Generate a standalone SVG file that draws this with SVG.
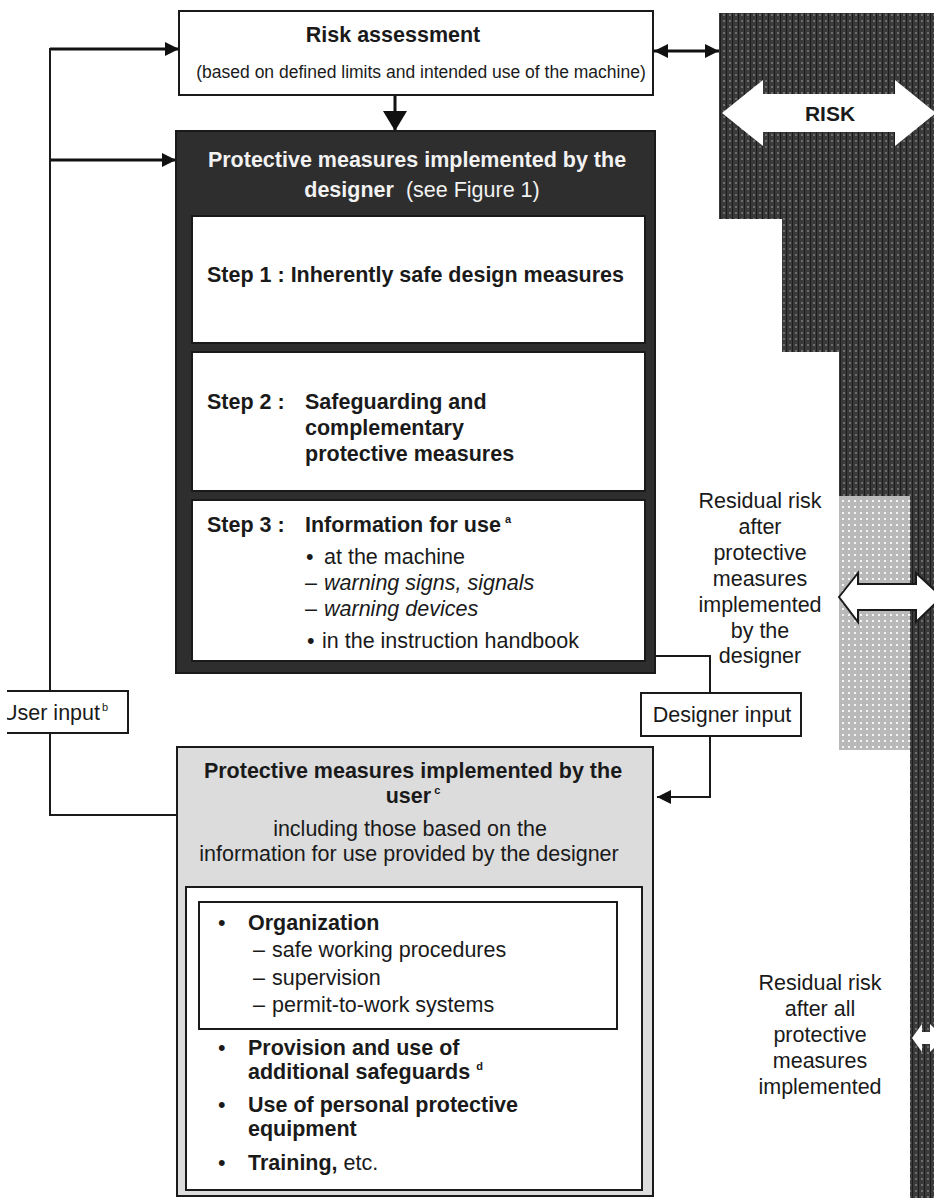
<svg xmlns="http://www.w3.org/2000/svg" width="934" height="1198" viewBox="0 0 934 1198">
<style>
text{font-family:"Liberation Sans",Arial,sans-serif;font-size:21.5px;fill:#1a1a1a}
.b{font-weight:bold}
.i{font-style:italic}
.w{fill:#f2f2f2}
.sm{font-size:17.5px}
.sup{font-size:11px}
.box{fill:#fff;stroke:#1a1a1a;stroke-width:2}
.ln{fill:none;stroke:#1a1a1a;stroke-width:2}
.lnt{fill:none;stroke:#111;stroke-width:3}
</style>
<defs>
<pattern id="dk" width="6" height="6" patternUnits="userSpaceOnUse">
<rect width="6" height="6" fill="#3a3a3a"/>
<rect x="0" y="0" width="1" height="6" fill="#1c1c1c"/>
<rect x="3" y="2" width="2" height="2" fill="#6e6e6e"/>
</pattern>
<pattern id="lt" width="6" height="6" patternUnits="userSpaceOnUse">
<rect width="6" height="6" fill="#b9b9b9"/>
<rect x="2" y="2" width="2" height="2" fill="#f4f4f4"/>
</pattern>
<marker id="ah" viewBox="0 0 10 10" refX="10" refY="5" markerUnits="userSpaceOnUse" markerWidth="14" markerHeight="14" orient="auto-start-reverse" preserveAspectRatio="none">
<path d="M0,0 L10,5 L0,10 Z" fill="#111"/>
</marker>
<marker id="ahb" viewBox="0 0 10 10" refX="10" refY="5" markerUnits="userSpaceOnUse" markerWidth="20" markerHeight="24" orient="auto" preserveAspectRatio="none">
<path d="M0,0 L10,5 L0,10 Z" fill="#111"/>
</marker>
<clipPath id="clipL"><rect x="7" y="0" width="927" height="1198"/></clipPath>
</defs>

<g id="risk-band">
<polygon points="719,13 934,13 934,1198 910,1198 910,496 839,496 839,352 782,352 782,219 719,219" fill="url(#dk)"/>
<rect x="839" y="496" width="71" height="254" fill="url(#lt)"/>
<polygon points="722,113 763,80 763,94 895,94 895,80 936,113 895,146 895,132 763,132 763,146" fill="#fff"/>
<text class="b" x="830" y="121" text-anchor="middle" style="font-size:21px">RISK</text>
<polygon points="839,597 858,573 858,584 916,584 916,573 942,597 916,622 916,610 858,610 858,622" fill="#fff" stroke="#1a1a1a" stroke-width="2"/>
<polygon points="912,1038 922,1024 922,1032 930,1032 930,1024 944,1038 930,1052 930,1044 922,1044 922,1052" fill="#fff"/>
</g>

<g id="connectors">
<path class="lnt" d="M50,49 H179" marker-end="url(#ah)"/>
<path class="lnt" d="M50,160 H176" marker-end="url(#ah)"/>
<path class="ln" d="M50,48 V691"/>
<path class="ln" d="M50,733 V815 H177"/>
<path class="lnt" d="M395,95 V131" marker-end="url(#ahb)"/>
<path class="lnt" d="M654,51 H719" marker-start="url(#ah)" marker-end="url(#ah)"/>
<path class="ln" d="M655,656 H710 V693"/>
<path class="ln" d="M710,736 V797 H657" marker-end="url(#ah)"/>
</g>

<g id="risk-assessment">
<rect class="box" x="179" y="11" width="474" height="84"/>
<text class="b" x="393" y="42" text-anchor="middle">Risk assessment</text>
<text class="sm" x="421" y="78" text-anchor="middle">(based on defined limits and intended use of the machine)</text>
</g>

<g id="designer-measures">
<rect x="176" y="131" width="479" height="542" fill="#2e2e2e" stroke="#1a1a1a" stroke-width="2"/>
<text class="b w" x="417" y="167" text-anchor="middle">Protective measures implemented by the</text>
<text class="w" x="422" y="197" text-anchor="middle"><tspan class="b w">designer</tspan><tspan class="w" dx="12">(see Figure 1)</tspan></text>
</g>

<g id="step1">
<rect class="box" x="192" y="216" width="453" height="127"/>
<text class="b" x="207" y="282">Step 1 : Inherently safe design measures</text>
</g>

<g id="step2">
<rect class="box" x="192" y="352" width="453" height="139"/>
<text class="b" x="207" y="409">Step 2 :</text>
<text class="b" x="305" y="409">Safeguarding and</text>
<text class="b" x="305" y="435">complementary</text>
<text class="b" x="305" y="461">protective measures</text>
</g>

<g id="step3">
<rect class="box" x="192" y="500" width="453" height="161"/>
<text class="b" x="207" y="532">Step 3 :</text>
<text class="b" x="305" y="532">Information for use<tspan class="sup" dx="4" dy="-9">a</tspan></text>
<text x="306" y="564">•</text><text x="324" y="564">at the machine</text>
<text x="305" y="590">–</text><text class="i" x="324" y="590">warning signs, signals</text>
<text x="305" y="616">–</text><text class="i" x="324" y="616">warning devices</text>
<text x="307" y="648">•</text><text x="322" y="648">in the instruction handbook</text>
</g>

<g id="designer-input">
<rect class="box" x="641" y="693" width="160" height="43"/>
<text x="722" y="722" text-anchor="middle">Designer input</text>
</g>

<g id="user-input" clip-path="url(#clipL)">
<rect class="box" x="-10" y="691" width="138" height="42"/>
<text x="2" y="720">User input<tspan class="sup" dx="2" dy="-9">b</tspan></text>
</g>

<g id="residual-designer">
<text x="760" y="508" text-anchor="middle">Residual risk</text>
<text x="760" y="534" text-anchor="middle">after</text>
<text x="760" y="560" text-anchor="middle">protective</text>
<text x="760" y="586" text-anchor="middle">measures</text>
<text x="760" y="612" text-anchor="middle">implemented</text>
<text x="760" y="638" text-anchor="middle">by the</text>
<text x="760" y="663" text-anchor="middle">designer</text>
</g>

<g id="residual-all">
<text x="820" y="990" text-anchor="middle">Residual risk</text>
<text x="820" y="1016" text-anchor="middle">after all</text>
<text x="820" y="1042" text-anchor="middle">protective</text>
<text x="820" y="1068" text-anchor="middle">measures</text>
<text x="820" y="1094" text-anchor="middle">implemented</text>
</g>

<g id="user-measures">
<rect x="177" y="747" width="476" height="449" fill="#dcdcdc" stroke="#1a1a1a" stroke-width="2"/>
<text class="b" x="413" y="778" text-anchor="middle">Protective measures implemented by the</text>
<text class="b" x="413" y="803" text-anchor="middle">user<tspan class="sup" dx="3" dy="-9">c</tspan></text>
<text x="410" y="836" text-anchor="middle">including those based on the</text>
<text x="409" y="861" text-anchor="middle">information for use provided by the designer</text>
<rect class="box" x="186" y="887" width="456" height="303"/>
</g>

<g id="organization">
<rect class="box" x="199" y="902" width="418" height="127"/>
<text x="218" y="930">•</text>
<text class="b" x="248" y="930">Organization</text>
<text x="253" y="957">–</text><text x="272" y="957">safe working procedures</text>
<text x="253" y="985">–</text><text x="272" y="985">supervision</text>
<text x="253" y="1012">–</text><text x="272" y="1012">permit-to-work systems</text>
</g>

<g id="other-measures">
<text x="218" y="1055">•</text>
<text class="b" x="248" y="1055">Provision and use of</text>
<text class="b" x="248" y="1079">additional safeguards<tspan class="sup" dx="6" dy="-9">d</tspan></text>
<text x="218" y="1112">•</text>
<text class="b" x="248" y="1112">Use of personal protective</text>
<text class="b" x="248" y="1136">equipment</text>
<text x="218" y="1170">•</text>
<text x="248" y="1170"><tspan class="b">Training,</tspan> etc.</text>
</g>
</svg>
